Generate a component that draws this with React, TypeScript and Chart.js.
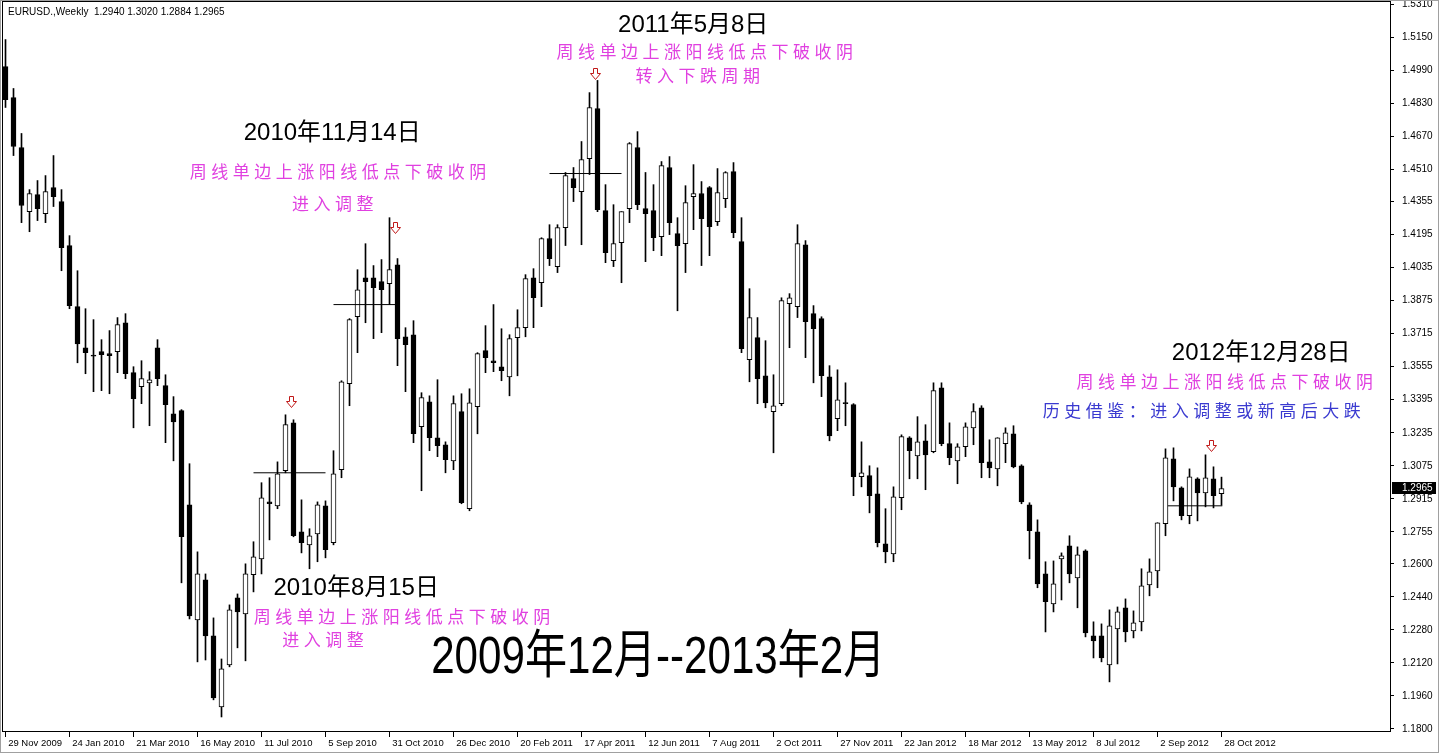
import React, { useEffect, useRef } from 'react';
import { Chart, registerables } from 'chart.js';
Chart.register(...registerables);

// ---- data (weekly EURUSD candles) ----
const opens = [
  1.5009, 1.4859, 1.4617, 1.4306, 1.4389, 1.4297, 1.4423, 1.4355, 1.4142, 1.3846,
  1.3647, 1.3608, 1.3628, 1.3618, 1.3628, 1.3768, 1.3526, 1.3458, 1.3477, 1.3647,
  1.3463, 1.3327, 1.3342, 1.2886, 1.2328, 1.2522, 1.2251, 1.1907, 1.2110, 1.2435,
  1.2357, 1.2547, 1.2624, 1.2900, 1.2881, 1.3051, 1.3283, 1.2755, 1.2692, 1.2745,
  1.2881, 1.2702, 1.3056, 1.3473, 1.3797, 1.3986, 1.3986, 1.3967, 1.3957, 1.4049,
  1.3700, 1.3710, 1.3264, 1.3385, 1.3211, 1.3177, 1.3099, 1.3337, 1.2867, 1.3361,
  1.3633, 1.3584, 1.3555, 1.3506, 1.3696, 1.3744, 1.3986, 1.3962, 1.4176, 1.4040,
  1.4229, 1.4466, 1.4403, 1.4563, 1.4806, 1.4311, 1.4069, 1.4156, 1.4321, 1.4617,
  1.4321, 1.4311, 1.4185, 1.4520, 1.4200, 1.4151, 1.4379, 1.4394, 1.4423, 1.4258,
  1.4369, 1.4500, 1.4161, 1.3589, 1.3696, 1.3511, 1.3337, 1.3376, 1.3860, 1.3846,
  1.4146, 1.3812, 1.3788, 1.3506, 1.3303, 1.3380, 1.3371, 1.3022, 1.3027, 1.2939,
  1.2697, 1.2648, 1.2920, 1.3211, 1.3123, 1.3196, 1.3143, 1.3453, 1.3182, 1.3099,
  1.3167, 1.3259, 1.3356, 1.3094, 1.3060, 1.3182, 1.3230, 1.3075, 1.2886, 1.2755,
  1.2551, 1.2406, 1.2624, 1.2687, 1.2532, 1.2663, 1.2251, 1.2251, 1.2110, 1.2285,
  1.2387, 1.2275, 1.2319, 1.2498, 1.2566, 1.2794, 1.3109, 1.2968, 1.2833, 1.3012,
  1.2944, 1.3012, 1.2940,
];
const highs = [
  1.5140, 1.4903, 1.4685, 1.4413, 1.4457, 1.4481, 1.4578, 1.4413, 1.4190, 1.4020,
  1.3836, 1.3783, 1.3686, 1.3730, 1.3793, 1.3812, 1.3555, 1.3584, 1.3531, 1.3686,
  1.3516, 1.3410, 1.3347, 1.3085, 1.2658, 1.2551, 1.2338, 1.2139, 1.2401, 1.2454,
  1.2600, 1.2707, 1.2993, 1.3017, 1.3094, 1.3322, 1.3298, 1.2910, 1.2770, 1.2900,
  1.2905, 1.3148, 1.3487, 1.3788, 1.4025, 1.4151, 1.4045, 1.4074, 1.4277, 1.4079,
  1.3744, 1.3778, 1.3429, 1.3414, 1.3492, 1.3191, 1.3414, 1.3424, 1.3448, 1.3623,
  1.3754, 1.3856, 1.3739, 1.3710, 1.3831, 1.4001, 1.4030, 1.4180, 1.4243, 1.4243,
  1.4496, 1.4520, 1.4646, 1.4883, 1.4942, 1.4437, 1.4340, 1.4306, 1.4641, 1.4694,
  1.4496, 1.4437, 1.4549, 1.4573, 1.4277, 1.4432, 1.4534, 1.4452, 1.4428, 1.4515,
  1.4500, 1.4544, 1.4277, 1.3933, 1.3793, 1.3681, 1.3516, 1.3889, 1.3909, 1.4243,
  1.4166, 1.3851, 1.3797, 1.3560, 1.3540, 1.3477, 1.3376, 1.3191, 1.3075, 1.3065,
  1.2867, 1.2973, 1.3225, 1.3216, 1.3313, 1.3274, 1.3477, 1.3477, 1.3283, 1.3182,
  1.3283, 1.3376, 1.3366, 1.3201, 1.3211, 1.3259, 1.3269, 1.3080, 1.2896, 1.2813,
  1.2610, 1.2614, 1.2653, 1.2736, 1.2682, 1.2668, 1.2319, 1.2309, 1.2377, 1.2391,
  1.2430, 1.2372, 1.2576, 1.2624, 1.2799, 1.3157, 1.3162, 1.2973, 1.3060, 1.3017,
  1.3128, 1.3070, 1.3020,
];
const lows = [
  1.4811, 1.4578, 1.4253, 1.4209, 1.4263, 1.4253, 1.4331, 1.4020, 1.3836, 1.3574,
  1.3521, 1.3434, 1.3439, 1.3424, 1.3526, 1.3497, 1.3259, 1.3376, 1.3269, 1.3463,
  1.3187, 1.3099, 1.2508, 1.2333, 1.2125, 1.2134, 1.1941, 1.1858, 1.2101, 1.2193,
  1.2130, 1.2464, 1.2551, 1.2716, 1.2867, 1.3041, 1.2731, 1.2653, 1.2576, 1.2610,
  1.2629, 1.2692, 1.3017, 1.3366, 1.3623, 1.3768, 1.3691, 1.3720, 1.3856, 1.3560,
  1.3434, 1.3187, 1.2954, 1.3148, 1.3119, 1.3041, 1.3056, 1.2891, 1.2857, 1.3230,
  1.3526, 1.3531, 1.3487, 1.3414, 1.3511, 1.3700, 1.3744, 1.3846, 1.4045, 1.4011,
  1.4142, 1.4355, 1.4146, 1.4486, 1.4306, 1.4059, 1.4040, 1.3962, 1.4253, 1.4316,
  1.4064, 1.4117, 1.4093, 1.4195, 1.3826, 1.4011, 1.4219, 1.4045, 1.4093, 1.4239,
  1.4326, 1.4180, 1.3623, 1.3482, 1.3376, 1.3356, 1.3138, 1.3366, 1.3647, 1.3793,
  1.3599, 1.3477, 1.3410, 1.3196, 1.3245, 1.3269, 1.2930, 1.2973, 1.2847, 1.2682,
  1.2605, 1.2610, 1.2862, 1.3012, 1.3012, 1.2959, 1.3138, 1.3172, 1.3080, 1.2988,
  1.3119, 1.3177, 1.3017, 1.3017, 1.2978, 1.3090, 1.3065, 1.2891, 1.2624, 1.2484,
  1.2270, 1.2367, 1.2425, 1.2508, 1.2387, 1.2246, 1.2144, 1.2125, 1.2028, 1.2115,
  1.2222, 1.2241, 1.2275, 1.2445, 1.2484, 1.2736, 1.2905, 1.2813, 1.2794, 1.2808,
  1.2876, 1.2871, 1.2884,
];
const closes = [
  1.4849, 1.4622, 1.4336, 1.4394, 1.4321, 1.4403, 1.4379, 1.4132, 1.3851, 1.3666,
  1.3623, 1.3606, 1.3613, 1.3608, 1.3759, 1.3521, 1.3400, 1.3497, 1.3492, 1.3497,
  1.3371, 1.3288, 1.2731, 1.2348, 1.2551, 1.2251, 1.1950, 1.2091, 1.2377, 1.2367,
  1.2551, 1.2634, 1.2920, 1.2891, 1.3036, 1.3274, 1.2736, 1.2702, 1.2736, 1.2886,
  1.2668, 1.3036, 1.3482, 1.3783, 1.3928, 1.3967, 1.3938, 1.3928, 1.4025, 1.3691,
  1.3662, 1.3230, 1.3405, 1.3211, 1.3172, 1.3104, 1.3376, 1.2896, 1.3380, 1.3618,
  1.3599, 1.3574, 1.3536, 1.3691, 1.3744, 1.3982, 1.3889, 1.4176, 1.4079, 1.4229,
  1.4481, 1.4423, 1.4559, 1.4811, 1.4316, 1.4108, 1.4151, 1.4306, 1.4636, 1.4340,
  1.4297, 1.4180, 1.4529, 1.4253, 1.4142, 1.4350, 1.4394, 1.4272, 1.4234, 1.4399,
  1.4496, 1.4205, 1.3642, 1.3793, 1.3497, 1.3380, 1.3366, 1.3875, 1.3889, 1.4151,
  1.3773, 1.3739, 1.3511, 1.3220, 1.3395, 1.3376, 1.3022, 1.3041, 1.2930, 1.2702,
  1.2658, 1.2925, 1.3216, 1.3148, 1.3191, 1.3128, 1.3439, 1.3182, 1.3114, 1.3167,
  1.3264, 1.3337, 1.3090, 1.3065, 1.3211, 1.3235, 1.3070, 1.2900, 1.2760, 1.2503,
  1.2416, 1.2503, 1.2639, 1.2551, 1.2644, 1.2265, 1.2227, 1.2144, 1.2299, 1.2367,
  1.2270, 1.2314, 1.2493, 1.2561, 1.2799, 1.3114, 1.2973, 1.2833, 1.3022, 1.2944,
  1.3017, 1.2930, 1.2965,
];

const dateLabels = [
  '29 Nov 2009', '24 Jan 2010', '21 Mar 2010', '16 May 2010', '11 Jul 2010',
  '5 Sep 2010', '31 Oct 2010', '26 Dec 2010', '20 Feb 2011', '17 Apr 2011',
  '12 Jun 2011', '7 Aug 2011', '2 Oct 2011', '27 Nov 2011', '22 Jan 2012',
  '18 Mar 2012', '13 May 2012', '8 Jul 2012', '2 Sep 2012', '28 Oct 2012',
];
const dateTickBars = [0, 8, 16, 24, 32, 40, 48, 56, 64, 72, 80, 88, 96, 104, 112, 120, 128, 136, 144, 152];
const priceTicks = [
  1.5310, 1.5150, 1.4990, 1.4830, 1.4670, 1.4510, 1.4355, 1.4195, 1.4035, 1.3875,
  1.3715, 1.3555, 1.3395, 1.3235, 1.3075, 1.2915, 1.2755, 1.2600, 1.2440, 1.2280,
  1.2120, 1.1960, 1.1800,
];

// horizontal support lines (bar from, bar to, price)
const levelFrom = [31, 41, 68, 145.3];
const levelTo = [40, 48.7, 77, 152.1];
const levelPrice = [1.3041, 1.3856, 1.4491, 1.2881];

// signal arrows above bearish breakdown candles
const arrowBars = [36, 49, 74, 151];
const arrowPrices = [1.3361, 1.4205, 1.4951, 1.3148];

// annotations placed in (bar index, price) coordinates
const noteTexts = [
  '2011年5月8日', '周线单边上涨阳线低点下破收阴', '转入下跌周期',
  '2010年11月14日', '周线单边上涨阳线低点下破收阴', '进入调整',
  '2010年8月15日', '周线单边上涨阳线低点下破收阴', '进入调整',
  '2012年12月28日', '周线单边上涨阳线低点下破收阴', '历史借鉴：进入调整或新高后大跌',
];
const noteBars = [85.96, 87.7, 86.8, 40.84, 41.84, 41.2, 43.84, 49.84, 39.96, 156.96, 152.7, 149.8];
const notePrices = [1.5208, 1.5082, 1.4966, 1.4685, 1.4500, 1.4345, 1.2479, 1.2343, 1.2232, 1.3618, 1.3482, 1.3342];
const noteKinds = ['date', 'pink', 'pink', 'date', 'pink', 'pink', 'date', 'pink', 'pink', 'date', 'pink', 'blue'];
const titleText = '2009年12月--2013年2月';
const titleBar = 81.6;
const titlePrice = 1.2139;
const headerText = 'EURUSD.,Weekly  1.2940 1.3020 1.2884 1.2965';

const CJK = '"Noto Sans CJK SC"';

const overlayPlugin = {
  id: 'overlay',
  afterDraw(chart: any) {
    const { ctx, chartArea: a, scales } = chart;
    const xs = scales.x;
    const ys = scales.y;
    ctx.save();
    // frame
    ctx.strokeStyle = '#000';
    ctx.lineWidth = 1;
    ctx.strokeRect(a.left - 0.5, a.top - 0.5, a.right - a.left + 1, a.bottom - a.top + 1);
    ctx.strokeStyle = '#a0a0a0';
    ctx.strokeRect(0.5, 0.5, chart.width - 3, chart.height - 2);

    // header
    ctx.fillStyle = '#000';
    ctx.font = '10px "Liberation Sans", Arial, sans-serif';
    ctx.textAlign = 'left';
    ctx.textBaseline = 'middle';
    ctx.fillText(headerText, 8, 12);

    // arrows
    arrowBars.forEach((b, i) => {
      const cx = Math.round(xs.getPixelForValue(b)) - 2.5;
      const ty = Math.round(ys.getPixelForValue(arrowPrices[i])) + 0.5;
      ctx.beginPath();
      ctx.moveTo(cx - 2, ty - 11);
      ctx.lineTo(cx + 2, ty - 11);
      ctx.lineTo(cx + 2, ty - 6);
      ctx.lineTo(cx + 5, ty - 6);
      ctx.lineTo(cx, ty);
      ctx.lineTo(cx - 5, ty - 6);
      ctx.lineTo(cx - 2, ty - 6);
      ctx.closePath();
      ctx.fillStyle = '#fff';
      ctx.fill();
      ctx.strokeStyle = '#c01818';
      ctx.lineWidth = 1;
      ctx.stroke();
    });

    // notes
    noteTexts.forEach((t, i) => {
      const x = xs.getPixelForValue(noteBars[i]);
      const y = ys.getPixelForValue(notePrices[i]);
      const kind = noteKinds[i];
      ctx.textAlign = 'center';
      ctx.textBaseline = 'middle';
      if (kind === 'date') {
        ctx.fillStyle = '#000';
        ctx.font = `24px "Liberation Sans", ${CJK}, sans-serif`;
        (ctx as any).letterSpacing = '0px';
      } else {
        ctx.fillStyle = kind === 'pink' ? '#e040e0' : '#3a3ad0';
        ctx.font = `17px ${CJK}, sans-serif`;
        (ctx as any).letterSpacing = '4.5px';
      }
      ctx.fillText(t, x, y);
    });
    (ctx as any).letterSpacing = '0px';

    // title
    const tx = xs.getPixelForValue(titleBar);
    const ty = ys.getPixelForValue(titlePrice);
    ctx.save();
    ctx.translate(tx, ty);
    ctx.scale(0.81, 1);
    ctx.fillStyle = '#000';
    ctx.font = `52px "Liberation Sans", ${CJK}, sans-serif`;
    ctx.textAlign = 'center';
    ctx.textBaseline = 'middle';
    ctx.fillText(titleText, 0, 0);
    ctx.restore();

    // current price tag
    const last = closes[closes.length - 1];
    const py = Math.round(ys.getPixelForValue(last));
    ctx.fillStyle = '#000';
    ctx.fillRect(a.right + 2, py - 6, 44, 12);
    ctx.fillStyle = '#fff';
    ctx.font = '10px "Liberation Sans", Arial, sans-serif';
    ctx.textAlign = 'left';
    ctx.textBaseline = 'middle';
    ctx.fillText(last.toFixed(4), a.right + 12, py);
    ctx.restore();
  },
};

export default function App() {
  const ref = useRef<HTMLCanvasElement>(null);
  useEffect(() => {
    document.body.style.margin = '0';
    document.body.style.overflow = 'hidden';
    const canvas = ref.current!;
    const idx = opens.map((_, i) => i);
    const chart = new Chart(canvas, {
      type: 'bar',
      data: {
        datasets: [
          ...levelPrice.map((p, k) => ({
            type: 'line' as const,
            data: [{ x: levelFrom[k], y: p }, { x: levelTo[k], y: p }],
            borderColor: '#000',
            borderWidth: 1,
            pointRadius: 0,
            order: 0,
          })),
          {
            type: 'bar' as const,
            data: idx.map((i) => ({ x: i, y: [opens[i], closes[i]] })) as any,
            backgroundColor: idx.map((i) => (closes[i] >= opens[i] ? '#ffffff' : '#000000')),
            borderColor: '#000',
            borderWidth: 1,
            borderSkipped: false,
            barThickness: 5,
            minBarLength: 1,
            grouped: false,
            order: 1,
          },
          {
            type: 'bar' as const,
            data: idx.map((i) => ({ x: i, y: [lows[i], highs[i]] })) as any,
            backgroundColor: '#000',
            borderWidth: 0,
            barThickness: 1,
            grouped: false,
            order: 2,
          },
        ],
      },
      options: {
        animation: false,
        responsive: false,
        devicePixelRatio: 1,
        layout: { padding: { left: 3, top: 2, right: 0, bottom: 0 } },
        plugins: { legend: { display: false }, tooltip: { enabled: false } },
        scales: {
          x: {
            type: 'linear',
            min: -0.3125,
            max: 173.0625,
            offset: false,
            afterBuildTicks: (s: any) => {
              s.ticks = dateTickBars.map((v) => ({ value: v }));
            },
            afterFit: (s: any) => {
              s.height = 23;
              s.paddingLeft = 0;
              s.paddingRight = 0;
            },
            ticks: {
              autoSkip: false,
              maxRotation: 0,
              align: 'start',
              padding: 1,
              color: '#000',
              font: { family: '"Liberation Sans", Arial, sans-serif', size: 9.5 },
              callback: (v: any) => {
                const k = dateTickBars.indexOf(Number(v));
                return k >= 0 ? ' ' + dateLabels[k] : '';
              },
            },
            grid: { drawOnChartArea: false, drawTicks: true, tickLength: 6, color: '#000', offset: false },
            border: { display: true, color: '#000' },
          },
          y: {
            type: 'linear',
            position: 'right',
            min: 1.1790,
            max: 1.5322,
            afterBuildTicks: (s: any) => {
              s.ticks = priceTicks.map((v) => ({ value: v }));
            },
            afterFit: (s: any) => {
              s.width = 51;
              s.paddingTop = 0;
              s.paddingBottom = 0;
            },
            ticks: {
              padding: 8,
              color: '#000',
              font: { family: '"Liberation Sans", Arial, sans-serif', size: 10 },
              callback: (v: any) => Number(v).toFixed(4),
            },
            grid: { drawOnChartArea: false, drawTicks: true, tickLength: 4, color: '#000' },
            border: { display: true, color: '#000' },
          },
        },
      } as any,
      plugins: [overlayPlugin],
    });
    return () => chart.destroy();
  }, []);
  return <canvas ref={ref} width={1441} height={754} style={{ display: 'block', width: 1441, height: 754 }} />;
}
